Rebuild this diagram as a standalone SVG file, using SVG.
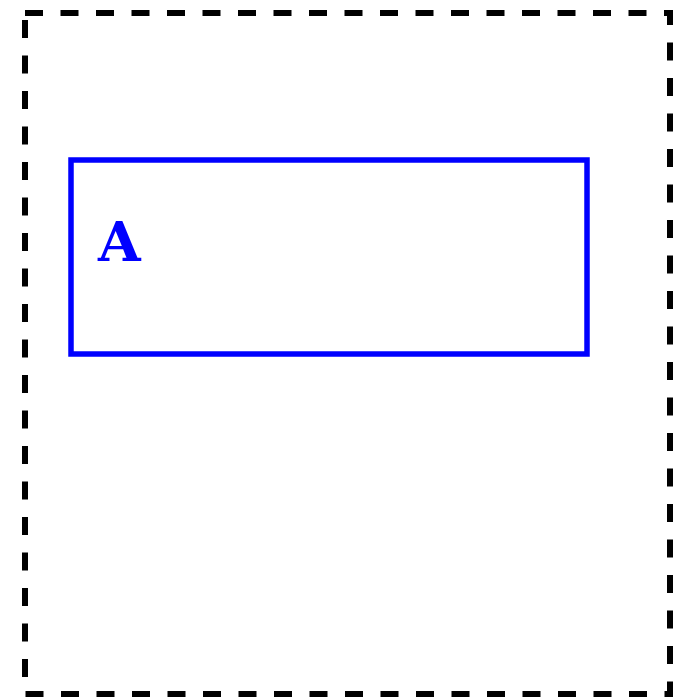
<svg xmlns="http://www.w3.org/2000/svg" width="679" height="698" viewBox="0 0 679 698">
<style>
.cluster{fill:none;stroke:#000;stroke-width:6;stroke-dasharray:18 17.5}
.node rect{fill:none;stroke:#0000ff;stroke-width:5.5}
.node text{fill:#0000ff;font-family:"DejaVu Serif","Liberation Serif",serif;font-weight:bold;font-size:55px}
</style>
<rect width="679" height="698" fill="#fff"/>
<g id="cluster">
<path class="cluster" d="M25,13 L670,13 L670,694 L25,694 Z"/>
</g>
<g id="node-A" class="node">
<rect x="71" y="160" width="516" height="194"/>
<text x="98" y="261">A</text>
</g>
<g id="connectors"/>
</svg>
